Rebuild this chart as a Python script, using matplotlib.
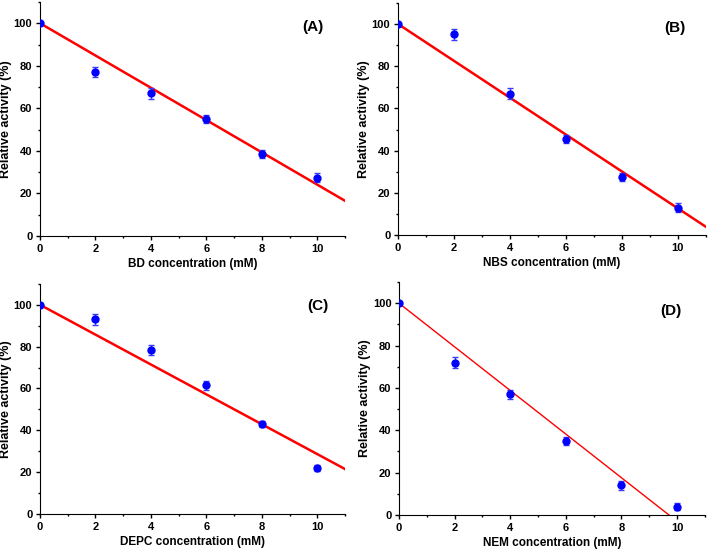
import numpy as np
import matplotlib
matplotlib.use("Agg")
import matplotlib.pyplot as plt
from matplotlib.ticker import MultipleLocator

plt.rcParams['font.family'] = ['Liberation Sans', 'DejaVu Sans']
plt.rcParams['font.weight'] = 'bold'

# concentrations (mM)
conc = [0, 2, 4, 6, 8, 10]

# relative activity (%) and error per reagent
bd = [100, 77, 67, 55, 38.5, 27.5]
bd_err = [0.8, 2.5, 2.5, 2, 2, 2]
nbs = [100, 95, 67, 45.5, 27.5, 13]
nbs_err = [0.8, 2.5, 2.5, 2, 2, 2]
depc = [100, 93, 78.5, 61.5, 43, 22]
depc_err = [0.8, 2.5, 2.5, 2, 1.5, 1.5]
nem = [100, 72, 57, 35, 14, 4]
nem_err = [0.8, 2.5, 2, 2, 2, 1.5]

# linear fits: (intercept, slope)
bd_fit = (100, -7.59)
nbs_fit = (100, -8.73)
depc_fit = (100, -7.14)
nem_fit = (100, -10.3)

reagents = ["BD", "NBS", "DEPC", "NEM"]
tags = ["(A)", "(B)", "(C)", "(D)"]
values = [bd, nbs, depc, nem]
errors = [bd_err, nbs_err, depc_err, nem_err]
fits = [bd_fit, nbs_fit, depc_fit, nem_fit]

# axes rectangles in figure fractions
rects = [
    [0.0565, 0.5755, 0.431, 0.421],
    [0.562, 0.577, 0.435, 0.418],
    [0.0565, 0.0755, 0.431, 0.414],
    [0.5636, 0.0737, 0.432, 0.419],
]
tag_pos = [(0.895, 0.893), (0.90, 0.893), (0.91, 0.905), (0.89, 0.875)]
fit_lw = [1.8, 1.8, 1.8, 1.0]

fig = plt.figure(figsize=(7.08, 5.56), dpi=100)

for i in range(4):
    ax = fig.add_axes(rects[i])
    b, m = fits[i]
    xl = np.linspace(0, 11, 200)
    ax.plot(xl, b + m * xl, color='red', lw=fit_lw[i], zorder=2)
    ax.errorbar(conc, values[i], yerr=errors[i], fmt='o', color='#0000ff',
                ecolor='#3a3aff', markersize=5, capsize=2, elinewidth=1,
                capthick=1, zorder=3)
    ax.set_xlim(0, 11)
    ax.set_ylim(0, 110)
    ax.xaxis.set_major_locator(MultipleLocator(2))
    ax.xaxis.set_minor_locator(MultipleLocator(1))
    ax.yaxis.set_major_locator(MultipleLocator(20))
    ax.yaxis.set_minor_locator(MultipleLocator(10))
    ax.tick_params(which='major', direction='out', length=3, width=1,
                   labelsize=8, pad=2.5)
    ax.tick_params(which='minor', direction='out', length=1.5, width=1)
    for lab in ax.get_xticklabels() + ax.get_yticklabels():
        lab.set_fontweight('bold')
    ax.spines['top'].set_visible(False)
    ax.spines['right'].set_visible(False)
    ax.set_xlabel(reagents[i] + " concentration (mM)", fontsize=8.5,
                  fontweight='bold', labelpad=3)
    ax.set_ylabel("Relative activity (%)", fontsize=9, fontweight='bold',
                  labelpad=1)
    ax.text(tag_pos[i][0], tag_pos[i][1], tags[i], transform=ax.transAxes,
            ha='center', va='center', fontsize=11, fontweight='bold')

fig.savefig("out.png", dpi=100)
